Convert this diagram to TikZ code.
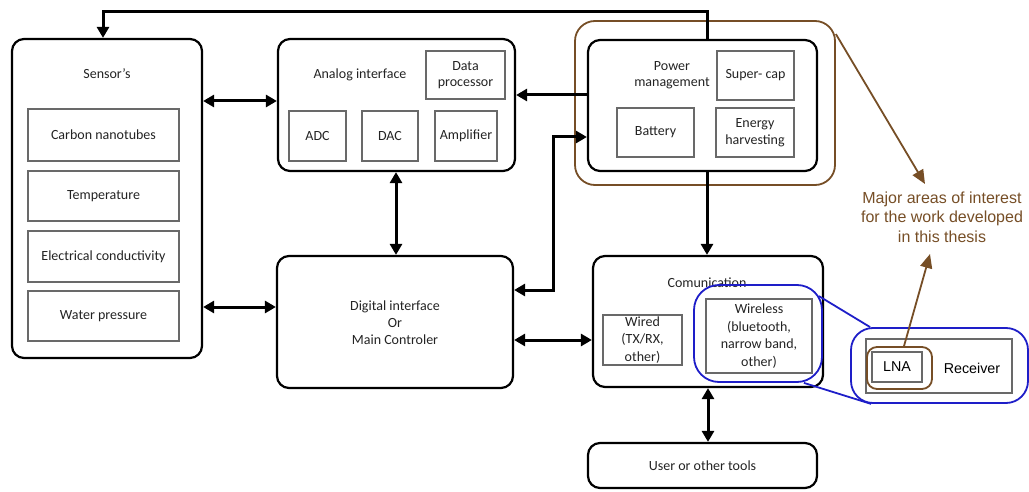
\documentclass[tikz,border=0pt]{standalone}
\usepackage{fontspec}
\setmainfont{Carlito}
\newfontfamily\arialfont{Liberation Sans}
\usetikzlibrary{arrows.meta}
\definecolor{brownline}{RGB}{118,78,38}
\definecolor{blueline}{RGB}{30,30,200}
\definecolor{txt}{RGB}{35,35,35}
\definecolor{innergray}{RGB}{105,105,105}
\tikzset{
  mainbox/.style={draw=black, line width=2.2pt, rounded corners=12pt, inner sep=0pt},
  subbox/.style={draw=innergray, line width=1.1pt, inner sep=0pt, align=center,
    text=txt, font=\fontsize{14}{17}\selectfont},
  lbl/.style={inner sep=0pt, align=center, text=txt, font=\fontsize{14}{17}\selectfont},
  conn/.style={line width=3pt, -{Triangle[length=11pt,width=12pt]}},
  biconn/.style={line width=3pt, {Triangle[length=11pt,width=12pt]}-{Triangle[length=11pt,width=12pt]}},
  focus/.style={draw=brownline, line width=1.8pt, inner sep=0pt},
  zoomring/.style={draw=blueline, line width=1.8pt, inner sep=0pt},
  note/.style={brownline, line width=1.8pt, -{Triangle[length=14pt,width=12pt]}},
}
\begin{document}
\begin{tikzpicture}[x=1pt, y=-1pt]
\useasboundingbox (0,0) rectangle (1029,492);

% ---- main blocks ----
\node[mainbox, minimum width=190pt, minimum height=319pt] (sensor) at (107,198.5) {};
\node[mainbox, minimum width=237pt, minimum height=132pt] (analog) at (396.5,105) {};
\node[mainbox, minimum width=236pt, minimum height=132pt] (digital) at (395,322) {};
\node[mainbox, minimum width=229pt, minimum height=131pt] (power) at (702.5,105.5) {};
\node[mainbox, minimum width=230pt, minimum height=131pt] (comm) at (708,321.5) {};
\node[mainbox, minimum width=229pt, minimum height=45pt, lbl] (user) at (702.5,465.5) {User or other tools};

% ---- block titles ----
\node[lbl] (sensorT) at (107,74) {Sensor's};
\node[lbl] (analogT) at (360,75) {Analog interface};
\node[lbl] (digitalT) at (395,323) {Digital interface\\Or\\Main Controler};
\node[lbl, font=\fontsize{14}{16}\selectfont] (powerT) at (672,75) {Power\\management};
\node[lbl] (commT) at (707,283) {Comunication};

% ---- sensors ----
\node[subbox, minimum width=151pt, minimum height=52pt] (cnt) at (103.5,135) {Carbon nanotubes};
\node[subbox, minimum width=151pt, minimum height=50pt] (temp) at (103.5,196) {Temperature};
\node[subbox, minimum width=151pt, minimum height=51pt] (cond) at (103.5,256.5) {Electrical conductivity};
\node[subbox, minimum width=151pt, minimum height=50pt] (water) at (103.5,316) {Water pressure};

% ---- analog interface parts ----
\node[subbox, minimum width=79pt, minimum height=48pt, font=\fontsize{14}{16.5}\selectfont] (dproc) at (465.5,75) {Data\\processor};
\node[subbox, minimum width=57pt, minimum height=50pt] (adc) at (317.5,136) {ADC};
\node[subbox, minimum width=56pt, minimum height=50pt] (dac) at (390,136) {DAC};
\node[subbox, minimum width=62pt, minimum height=50pt] (amp) at (466,136) {Amplifier};

% ---- power management parts ----
\node[subbox, minimum width=77pt, minimum height=49pt] (scap) at (755.5,75.5) {Super- cap};
\node[subbox, minimum width=77pt, minimum height=49pt] (batt) at (655.5,132.5) {Battery};
\node[subbox, minimum width=78pt, minimum height=49pt, font=\fontsize{14}{16.5}\selectfont] (harv) at (755,132.5) {Energy\\harvesting};

% ---- communication parts ----
\node[subbox, minimum width=79pt, minimum height=50pt, font=\fontsize{14}{17.5}\selectfont] (wired) at (642.5,340) {Wired\\(TX/RX,\\other)};
\node[subbox, minimum width=106pt, minimum height=74pt, font=\fontsize{14}{17.5}\selectfont] (wless) at (759,336) {Wireless\\(bluetooth,\\narrow band,\\other)};

% ---- highlighted areas ----
\node[focus, rounded corners=20pt, minimum width=260pt, minimum height=164pt] (pfocus) at (705,103) {};
\node[zoomring, rounded corners=25pt, minimum width=128pt, minimum height=97pt] (wring) at (758,333.5) {};

% ---- receiver detail ----
\node[zoomring, rounded corners=22pt, minimum width=177pt, minimum height=75pt] (rxring) at (939.5,365.5) {};
\node[draw=innergray, line width=1.1pt, minimum width=146pt, minimum height=54pt, inner sep=0pt] (rx) at (939,366) {};
\node[draw=innergray, line width=1.1pt, minimum width=50pt, minimum height=30pt, inner sep=0pt,
      font=\arialfont\fontsize{14.3}{17}\selectfont] (lna) at (897,367) {LNA};
\node[inner sep=0pt, font=\arialfont\fontsize{14.3}{17}\selectfont] (rxT) at (972,368) {Receiver};
\node[focus, rounded corners=10pt, minimum width=65pt, minimum height=42pt] (lnafocus) at (899.5,368) {};

% ---- zoom lines ----
\draw[blueline, line width=1.8pt] ([xshift=-4pt,yshift=-12pt]wring.north east) -- ([xshift=20pt]rxring.north west);
\draw[blueline, line width=1.8pt] ([xshift=-19pt]wring.south east) -- ([xshift=21pt]rxring.south west);

% ---- annotation ----
\node[inner sep=0pt, align=center, text=brownline, font=\arialfont\fontsize{16}{19.5}\selectfont] (interest) at (942,217)
  {Major areas of interest\\for the work developed\\in this thesis};
\coordinate (tipA) at (925,184);
\coordinate (tipB) at (930,254);
\draw[note] ([yshift=-14pt]pfocus.north east) -- (tipA);
\draw[note] ([xshift=4.5pt]lnafocus.north) -- (tipB);

% ---- connectors ----
\coordinate (yA) at (0,101);
\coordinate (yB) at (0,307);
\coordinate (yC) at (0,95);
\coordinate (yD) at (0,137);
\coordinate (yE) at (0,290);
\coordinate (yF) at (0,340);
\coordinate (xTop) at (707,12);
\coordinate (xLeft) at (103,12);
\coordinate (xBend) at (553,0);
\coordinate (xUser) at (708,0);
\coordinate (xMid) at (396,0);

\draw[biconn] (sensor.east |- yA) -- (analog.west |- yA);
\draw[biconn] (sensor.east |- yB) -- (digital.west |- yB);
\draw[biconn] (analog.south -| xMid) -- (digital.north -| xMid);
\draw[conn] (power.west |- yC) -- (analog.east |- yC);
\draw[biconn] (digital.east |- yE) -| (xBend |- yD) -- (power.west |- yD);
\draw[conn] (power.north -| xTop) -- (xTop) -- (xLeft) -- (sensor.north -| xLeft);
\draw[conn] (power.south -| xTop) -- (comm.north -| xTop);
\draw[biconn] (digital.east |- yF) -- (comm.west |- yF);
\draw[biconn] (comm.south -| xUser) -- (user.north -| xUser);
\end{tikzpicture}
\end{document}
